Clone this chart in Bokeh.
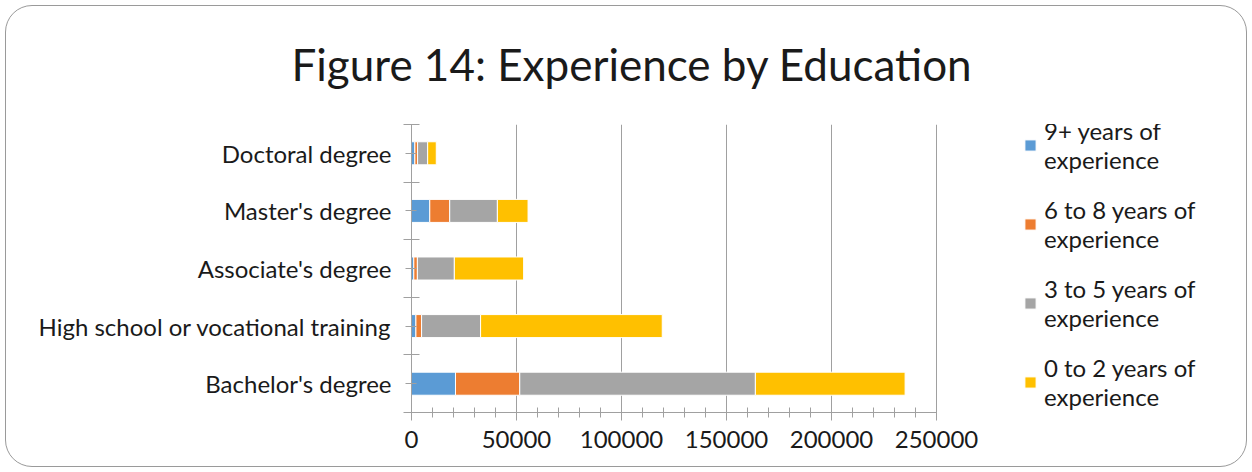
from bokeh.plotting import figure
from bokeh.models import (Range1d, LinearAxis, FixedTicker, BasicTickFormatter,
                          Legend, ColumnDataSource, Title)
from bokeh.embed import file_html
from bokeh.resources import INLINE

categories = ["Bachelor's degree", "High school or vocational training",
              "Associate's degree", "Master's degree", "Doctoral degree"]
series_names = ["9+ years of experience", "6 to 8 years of experience",
                "3 to 5 years of experience", "0 to 2 years of experience"]
legend_labels = ["9+ years of\nexperience", "6 to 8 years of\nexperience",
                 "3 to 5 years of\nexperience", "0 to 2 years of\nexperience"]
yrs_9_plus = [20950, 2100, 1100, 8700, 1600]
yrs_6_to_8 = [30600, 2700, 1700, 9500, 1300]
yrs_3_to_5 = [112200, 28100, 17600, 22700, 4800]
yrs_0_to_2 = [71300, 86500, 33000, 14600, 4100]
colors = ["#5B9BD5", "#ED7D31", "#A5A5A5", "#FFC000"]
x_max = 250000
x_step = 50000
x_minor_step = 10000

FONT = "Lato"
GRID = "#a0a0a0"
TEXT = "#1a1a1a"

# layout (pixels): plot area spans 411..936 for the axis, the frame is widened to
# 1245 so that the legend can sit inside it (center annotations are clipped)
AXIS_PX = 525
FRAME_PX = 834

n = len(categories)
centers = [i + 0.5 for i in range(n)]
bounds = list(range(n + 1))
major_ticks = list(range(0, x_max + 1, x_step))
minor_ticks = list(range(0, x_max + 1, x_minor_step))

source = ColumnDataSource(dict(cat=categories, y=centers, s0=yrs_9_plus, s1=yrs_6_to_8,
                               s2=yrs_3_to_5, s3=yrs_0_to_2))

p = figure(width=1252, height=472, output_backend="svg", toolbar_location=None,
           y_range=Range1d(0, n), x_range=Range1d(0, x_max * FRAME_PX / AXIS_PX),
           y_axis_location=None, x_axis_location=None,
           min_border_left=411, min_border_right=7, min_border_top=117,
           min_border_bottom=60)
p.border_fill_color = None
p.outline_line_color = None
p.styles = {"border-radius": "32px", "outline": "1px solid #9a9a9a",
            "outline-offset": "-6px"}

renderers = p.hbar_stack(["s0", "s1", "s2", "s3"], y="y", height=0.4, color=colors,
                         line_color="white", line_width=1, source=source)

# title
t = Title(text="Figure 14: Experience by Education", text_font=FONT,
          text_font_size="44px", text_font_style="normal", align="left",
          text_color=TEXT, offset=-120, standoff=70)
p.add_layout(t, "above")

# x axis
xa = LinearAxis(ticker=FixedTicker(ticks=major_ticks, minor_ticks=minor_ticks),
                formatter=BasicTickFormatter(use_scientific=False),
                bounds=(0, x_max))
xa.axis_line_color = GRID
xa.major_tick_line_color = GRID
xa.minor_tick_line_color = GRID
xa.major_tick_in = 0
xa.major_tick_out = 8
xa.minor_tick_in = 5
xa.minor_tick_out = 5
xa.major_label_text_font = FONT
xa.major_label_text_font_size = "24px"
xa.major_label_text_color = TEXT
xa.major_label_standoff = 10
p.add_layout(xa, "below")

# y axis: category labels at centers, long ticks at boundaries
ya = LinearAxis(ticker=FixedTicker(ticks=centers, minor_ticks=bounds))
ya.major_label_overrides = {c: lbl for c, lbl in zip(centers, categories)}
ya.axis_line_color = GRID
ya.major_tick_line_color = GRID
ya.minor_tick_line_color = GRID
ya.major_tick_in = 5
ya.major_tick_out = 6
ya.minor_tick_in = 8
ya.minor_tick_out = 8
ya.major_label_text_font = FONT
ya.major_label_text_font_size = "24px"
ya.major_label_text_color = TEXT
ya.major_label_standoff = 12
p.add_layout(ya, "left")

p.xgrid.grid_line_color = GRID
p.xgrid.grid_line_width = 1
p.xgrid.ticker = FixedTicker(ticks=major_ticks)
p.ygrid.grid_line_color = None

legend = Legend(items=[(lbl, [r]) for lbl, r in zip(legend_labels, renderers)],
                location=(612, 1))
legend.label_text_font = FONT
legend.label_text_font_size = "24px"
legend.label_text_color = TEXT
legend.glyph_width = 14
legend.glyph_height = 14
legend.label_standoff = 7
legend.spacing = 21
legend.padding = 0
legend.margin = 0
legend.border_line_color = None
legend.background_fill_alpha = 0
p.add_layout(legend, "center")

open("out.html", "w").write(file_html(p, INLINE))
